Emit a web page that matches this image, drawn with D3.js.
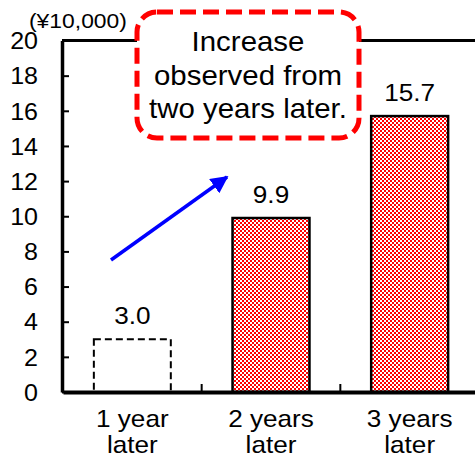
<!DOCTYPE html>
<html>
<head>
<meta charset="utf-8">
<script src="https://cdn.jsdelivr.net/npm/d3@7"></script>
<style>
  body { margin: 0; background: #fff; }
  svg { display: block; }
  text { font-family: "Liberation Sans", Arial, sans-serif; fill: #000; }
</style>
</head>
<body>
<div id="chart"></div>
<script>
// chart data
const categories = ['1 year later', '2 years later', '3 years later'];
const values = [3.0, 9.9, 15.7];
const valueLabels = ['3.0', '9.9', '15.7'];
const yTicks = [0, 2, 4, 6, 8, 10, 12, 14, 16, 18, 20];
const unitLabel = '(¥10,000)';
const noteLines = ['Increase', 'observed from', 'two years later.'];

const W = 475, H = 457;
const stretch = 1.09; // text in the picture is a bit wider than normal

const svg = d3.select('#chart').append('svg')
  .attr('width', W)
  .attr('height', H);

// checker fill for the bars
const defs = svg.append('defs');
const pat = defs.append('pattern')
  .attr('id', 'checker')
  .attr('patternUnits', 'userSpaceOnUse')
  .attr('width', 4)
  .attr('height', 4);
pat.append('rect').attr('width', 4).attr('height', 4).attr('fill', '#ff0000');
pat.append('rect').attr('width', 2).attr('height', 2).attr('fill', '#fff');
pat.append('rect').attr('x', 2).attr('y', 2).attr('width', 2).attr('height', 2).attr('fill', '#fff');

const plotLeft = 62, plotRight = 479, plotTop = 40.5, plotBottom = 392;

const x = d3.scaleBand()
  .domain(categories)
  .range([plotLeft + 1, plotRight])
  .paddingInner(0.445)
  .paddingOuter(0.2225);

const y = d3.scaleLinear()
  .domain([0, 20])
  .range([plotBottom, plotTop]);

function label(parent, px, py, str, size, anchor) {
  return parent.append('text')
    .attr('transform', `translate(${px},${py}) scale(${stretch},1)`)
    .attr('text-anchor', anchor || 'middle')
    .attr('font-size', size + 'px')
    .text(str);
}

// top frame line (right side falls off the picture)
svg.append('line')
  .attr('x1', plotLeft).attr('x2', plotRight)
  .attr('y1', plotTop).attr('y2', plotTop)
  .attr('stroke', '#000')
  .attr('stroke-width', 3);

// bars
values.forEach((v, i) => {
  const bar = svg.append('rect')
    .attr('x', x(categories[i]))
    .attr('y', y(v))
    .attr('width', x.bandwidth())
    .attr('height', y(0) - y(v));
  if (i === 0) {
    // first year drawn as an empty dashed box
    bar.attr('fill', '#fff')
      .attr('stroke', '#000')
      .attr('stroke-width', 2)
      .attr('stroke-dasharray', '7 4');
  } else {
    bar.attr('fill', 'url(#checker)')
      .attr('stroke', '#000')
      .attr('stroke-width', 2.5);
  }
  label(svg, x(categories[i]) + x.bandwidth() / 2, y(v) - 15, valueLabels[i], 24);
});

// y axis, ticks inside
const yAxis = svg.append('g')
  .attr('transform', `translate(${plotLeft},0)`)
  .call(d3.axisLeft(y).tickValues(yTicks).tickSizeInner(-7).tickSizeOuter(0).tickPadding(22));
yAxis.attr('font-family', null).attr('font-size', null);
yAxis.select('.domain').attr('stroke-width', 3.5);
yAxis.selectAll('.tick line').attr('stroke-width', 2);
yAxis.selectAll('.tick text')
  .attr('font-size', '23px')
  .attr('dy', '0.36em')
  .attr('transform', `scale(${stretch},1)`);

// x axis
const xAxis = svg.append('g')
  .attr('transform', `translate(0,${plotBottom})`)
  .call(d3.axisBottom(x).tickSize(0).tickPadding(0));
xAxis.attr('font-family', null).attr('font-size', null);
xAxis.select('.domain').attr('stroke-width', 4);
xAxis.selectAll('.tick text').each(function(d) {
  const t = d3.select(this);
  const cut = d.lastIndexOf(' ');
  t.text(null)
    .attr('font-size', '24px')
    .attr('dy', null)
    .attr('y', null)
    .attr('transform', `scale(${stretch},1)`);
  t.append('tspan').attr('x', 0).attr('y', 35).text(d.slice(0, cut));
  t.append('tspan').attr('x', 0).attr('y', 61).text(d.slice(cut + 1));
});

// separator ticks between categories
for (let i = 1; i < categories.length; i++) {
  const bx = (x(categories[i - 1]) + x.bandwidth() + x(categories[i])) / 2;
  svg.append('line')
    .attr('x1', bx).attr('x2', bx)
    .attr('y1', plotBottom).attr('y2', plotBottom - 8)
    .attr('stroke', '#000')
    .attr('stroke-width', 2);
}

// unit label
label(svg, 29, 28, unitLabel, 21, 'start');

// blue arrow
defs.append('marker')
  .attr('id', 'head')
  .attr('viewBox', '0 0 10 10')
  .attr('refX', 9).attr('refY', 5)
  .attr('markerWidth', 5).attr('markerHeight', 5)
  .attr('markerUnits', 'strokeWidth')
  .attr('orient', 'auto')
  .append('path')
  .attr('d', 'M0,0L10,5L0,10Z')
  .attr('fill', '#0000ff');
svg.append('line')
  .attr('x1', 111).attr('y1', 260)
  .attr('x2', 227).attr('y2', 177)
  .attr('stroke', '#0000ff')
  .attr('stroke-width', 3.5)
  .attr('marker-end', 'url(#head)');

// dashed note box
svg.append('rect')
  .attr('x', 137).attr('y', 12)
  .attr('width', 222).attr('height', 126)
  .attr('rx', 20).attr('ry', 20)
  .attr('fill', '#fff')
  .attr('stroke', '#ff0000')
  .attr('stroke-width', 5)
  .attr('stroke-dasharray', '16 7');

noteLines.forEach((s, i) => {
  label(svg, 248, 51 + i * 33.7, s, 27);
});
</script>
</body>
</html>
